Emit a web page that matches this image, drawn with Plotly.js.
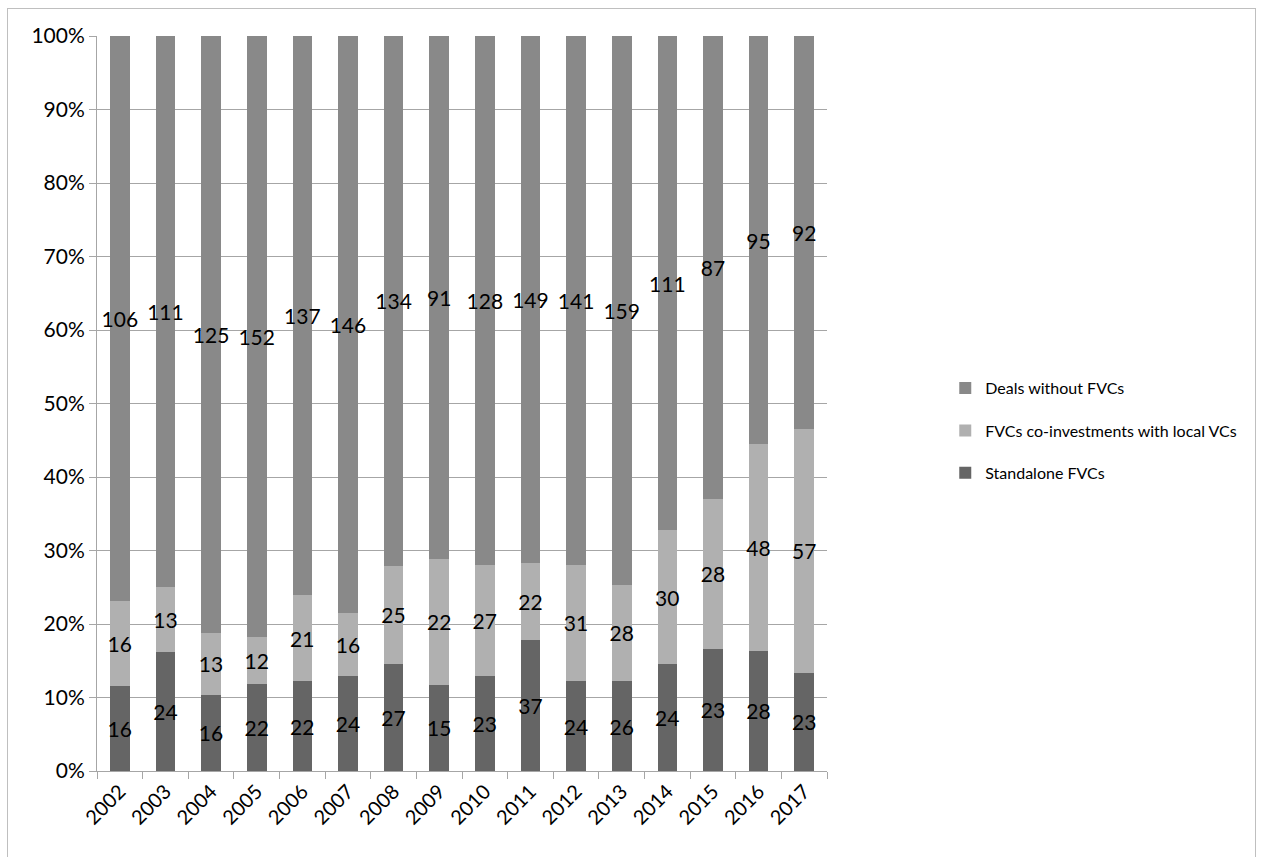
<!DOCTYPE html>
<html>
<head>
<meta charset="utf-8">
<script src="https://cdn.plot.ly/plotly-3.0.1.min.js"></script>
<style>
html,body{margin:0;padding:0;background:#fff;}
#chart{position:absolute;left:0;top:0;width:1261px;height:857px;}
#frame{position:absolute;left:7px;top:8px;width:1247px;height:870px;border:1px solid #bfbfbf;pointer-events:none;}
</style>
</head>
<body>
<div id="chart"></div>
<div id="frame"></div>
<script>
const years = ['2002','2003','2004','2005','2006','2007','2008','2009','2010','2011','2012','2013','2014','2015','2016','2017'];
const standalone = [16,24,16,22,22,24,27,15,23,37,24,26,24,23,28,23];
const coinvest = [16,13,13,12,21,16,25,22,27,22,31,28,30,28,48,57];
const without = [106,111,125,152,137,146,134,91,128,149,141,159,111,87,95,92];
const seriesNames = ['Standalone FVCs','FVCs co-investments with local VCs','Deals without FVCs'];
const seriesColors = ['#656565','#b0b0b0','#898989'];
const legendRanks = [3,2,1];

const FONT = 'Lato, "Open Sans", "Liberation Sans", sans-serif';
const mk = (vals, i) => ({
  type:'bar', x: years, y: vals, name: seriesNames[i],
  legendgroup: 'g'+i, legendrank: legendRanks[i],
  marker:{color: seriesColors[i], line:{width:0}},
  text: vals.map(String), textposition:'inside', insidetextanchor:'middle',
  textangle:0, constraintext:'none',
  textfont:{family:FONT, size:21, color:'#000'},
  hoverinfo:'skip'
});
const data = [mk(standalone,0), mk(coinvest,1), mk(without,2)];

const layout = {
  width:1261, height:857,
  margin:{l:97, r:434, t:36, b:86, pad:0, autoexpand:false},
  paper_bgcolor:'#fff', plot_bgcolor:'#fff',
  barmode:'stack', barnorm:'percent', bargap:0.57,
  font:{family:FONT, size:20, color:'#000'},
  xaxis:{
    type:'category', showline:true, linecolor:'#a6a6a6', linewidth:1,
    ticks:'outside', tickson:'boundaries', ticklen:7, tickcolor:'#a6a6a6',
    tickangle:-45, tickfont:{family:FONT, size:20, color:'#000'},
    showgrid:false, zeroline:false, automargin:false
  },
  yaxis:{
    range:[0,100], dtick:10, ticksuffix:'%',
    showline:true, linecolor:'#a6a6a6', linewidth:1,
    ticks:'outside', ticklen:7, tickcolor:'#a6a6a6',
    showgrid:true, gridcolor:'#a6a6a6', gridwidth:1,
    zeroline:false, automargin:false, tickfont:{family:FONT, size:21, color:'#000'}
  },
  legend:{
    x:1.162, y:0.463, xanchor:'left', yanchor:'middle',
    traceorder:'grouped', tracegroupgap:18.5,
    font:{family:FONT, size:16, color:'#000'},
    itemwidth:30, bgcolor:'rgba(0,0,0,0)'
  },
  showlegend:true
};
Plotly.newPlot('chart', data, layout, {displayModeBar:false, staticPlot:true});
</script>
</body>
</html>
